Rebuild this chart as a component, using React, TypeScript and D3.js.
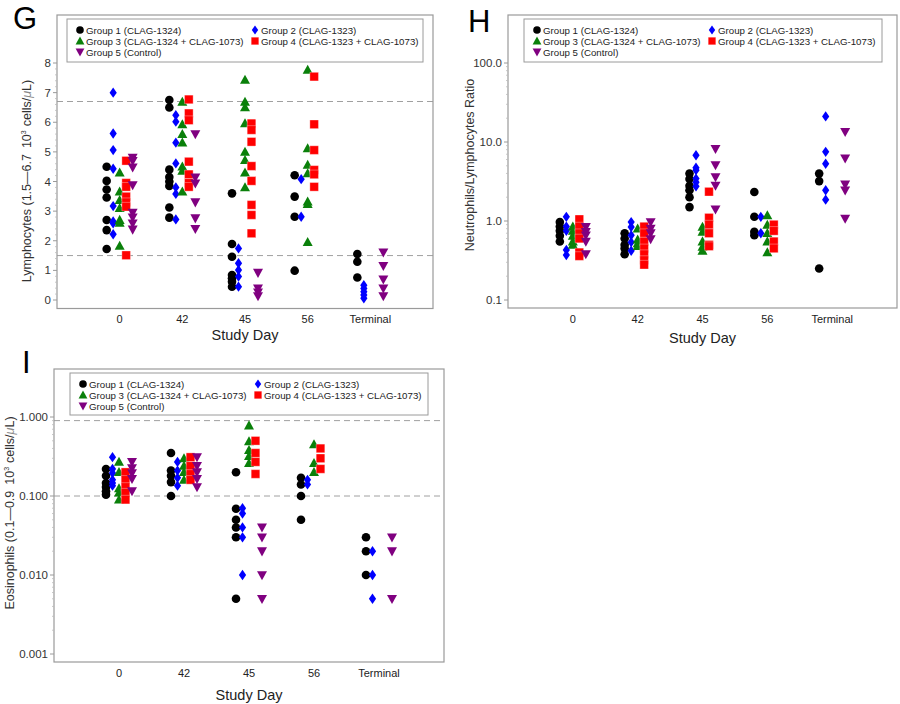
import React from 'react';
import * as d3 from 'd3';

const days = ['0', '42', '45', '56', 'Terminal'];
const groupNames = [
  'Group 1 (CLAG-1324)',
  'Group 2 (CLAG-1323)',
  'Group 3 (CLAG-1324 + CLAG-1073)',
  'Group 4 (CLAG-1323 + CLAG-1073)',
  'Group 5 (Control)',
];
const groupColors = ['#000000', '#0000ff', '#0a800a', '#ff0000', '#800080'];
const groupShapes = ['circle', 'diamond', 'triangle', 'square', 'triangleDown'];

// Lymphocytes (10^3 cells/uL), per group, per study day
const lymG1 = [[4.5, 4.02, 3.73, 3.46, 2.7, 2.36, 1.72], [6.75, 6.5, 4.4, 4.15, 4.0, 3.85, 3.12, 2.78], [3.6, 1.89, 1.46, 0.84, 0.73, 0.62, 0.45], [4.21, 3.49, 2.81, 0.99], [1.55, 1.29, 0.76]];
const lymG2 = [[7.0, 5.62, 5.06, 4.43, 3.17, 2.65, 2.59, 2.22], [6.24, 6.02, 5.31, 4.61, 3.8, 3.58, 2.72], [1.74, 1.24, 1.01, 0.79, 0.45], [4.08, 2.81], [0.5, 0.39, 0.28, 0.17, 0.06]];
const lymG3 = [[4.3, 3.66, 3.37, 3.1, 2.7, 2.6, 1.83], [6.69, 5.93, 5.6, 5.31, 4.5, 4.36, 3.66], [7.43, 6.69, 6.5, 5.96, 5.0, 4.72, 4.3, 3.8], [7.77, 5.12, 4.56, 4.27, 3.32, 3.24, 1.95], []];
const lymG4 = [[4.7, 3.95, 3.82, 3.49, 3.3, 3.15, 1.51], [6.77, 6.3, 6.07, 4.67, 4.24, 3.95, 3.82], [5.96, 5.74, 5.34, 4.52, 4.02, 3.21, 2.87, 2.25], [7.54, 5.93, 5.06, 4.39, 4.24, 3.82], []];
const lymG5 = [[4.81, 4.7, 4.48, 3.88, 2.95, 2.79, 2.59, 2.38], [5.6, 4.14, 3.94, 3.3, 2.76, 2.4], [0.92, 0.39, 0.26, 0.13], [], [1.61, 1.15, 0.7, 0.39, 0.13]];

// Neutrophils / Lymphocytes ratio
const nlrG1 = [[0.97, 0.85, 0.75, 0.65, 0.55], [0.7, 0.6, 0.5, 0.45, 0.38], [4.0, 3.4, 2.8, 2.45, 2.0, 1.5], [2.33, 1.13, 0.73, 0.66], [3.98, 3.2, 0.25]];
const nlrG2 = [[1.13, 0.85, 0.75, 0.43, 0.37], [0.97, 0.84, 0.66, 0.54, 0.42], [6.8, 4.73, 4.4, 3.44, 3.1, 2.75], [1.13, 0.7], [21.1, 7.5, 5.3, 2.45, 1.86]];
const nlrG3 = [[0.85, 0.75, 0.65, 0.55, 0.5], [0.8, 0.58, 0.52, 0.48], [0.84, 0.73, 0.55, 0.47, 0.42], [1.18, 0.89, 0.7, 0.55, 0.4], []];
const nlrG4 = [[1.05, 0.85, 0.7, 0.6, 0.4, 0.36], [0.85, 0.7, 0.55, 0.45, 0.38, 0.32, 0.28], [2.35, 1.1, 0.9, 0.7, 0.5, 0.48], [0.9, 0.75, 0.55, 0.45], []];
const nlrG5 = [[0.84, 0.73, 0.66, 0.55, 0.38], [0.97, 0.8, 0.7, 0.59], [8.2, 5.1, 3.6, 2.8, 1.4], [], [13.4, 6.2, 2.9, 2.45, 1.07]];

// Eosinophils (10^3 cells/uL)
const eosG1 = [[0.22, 0.18, 0.146, 0.13, 0.115, 0.104], [0.35, 0.21, 0.18, 0.15, 0.1], [0.2, 0.069, 0.05, 0.04, 0.03, 0.005], [0.17, 0.14, 0.1, 0.05], [0.03, 0.02, 0.01]];
const eosG2 = [[0.31, 0.22, 0.195, 0.16, 0.146, 0.135], [0.27, 0.21, 0.17, 0.135], [0.07, 0.06, 0.04, 0.03, 0.01], [0.16, 0.14], [0.02, 0.01, 0.005]];
const eosG3 = [[0.27, 0.2, 0.125, 0.11, 0.09], [0.3, 0.24, 0.2, 0.16], [0.78, 0.49, 0.38, 0.32, 0.26], [0.45, 0.26, 0.2], []];
const eosG4 = [[0.2, 0.16, 0.13, 0.11, 0.09], [0.31, 0.24, 0.19, 0.16], [0.5, 0.35, 0.27, 0.19], [0.4, 0.3, 0.22], []];
const eosG5 = [[0.27, 0.225, 0.195, 0.165, 0.115], [0.31, 0.24, 0.2, 0.165, 0.13], [0.04, 0.03, 0.02, 0.01, 0.005], [], [0.03, 0.02, 0.005]];

const lymTicks = [0, 1, 2, 3, 4, 5, 6, 7, 8];
const lymRef = [6.7, 1.5];
const nlrTicks = [0.1, 1, 10, 100];
const eosTicks = [0.001, 0.01, 0.1, 1];
const eosRef = [0.9, 0.1];

const FONT = '"Liberation Sans", Arial, sans-serif';

function markerPath(shape: string, s: number): string {
  switch (shape) {
    case 'diamond': {
      const w = s * 0.42, h = s * 0.6;
      return `M0,${-h}L${w},0L0,${h}L${-w},0Z`;
    }
    case 'triangle': {
      const w = s * 0.58, h = s;
      return `M0,${-h * 0.6}L${w},${h * 0.45}L${-w},${h * 0.45}Z`;
    }
    case 'triangleDown': {
      const w = s * 0.58, h = s;
      return `M0,${h * 0.6}L${w},${-h * 0.45}L${-w},${-h * 0.45}Z`;
    }
    case 'square': {
      const a = s / 2;
      return `M${-a},${-a}L${a},${-a}L${a},${a}L${-a},${a}Z`;
    }
    default: {
      const r = s / 2;
      return `M${r},0A${r},${r},0,1,1,${-r},0A${r},${r},0,1,1,${r},0Z`;
    }
  }
}

function Marker({ g, x, y, s }: { g: number; x: number; y: number; s: number }) {
  const isSq = groupShapes[g] === 'square';
  return (
    <path
      d={markerPath(groupShapes[g], s)}
      transform={`translate(${x},${y})`}
      fill={groupColors[g]}
      stroke={isSq ? 'rgba(255,255,255,0.55)' : 'none'}
      strokeWidth={isSq ? 0.6 : 0}
    />
  );
}

type PanelProps = {
  x0: number; y0: number; w: number; h: number;
  yScale: any;
  yTicks: number[];
  minor: number[];
  fmt: (v: number) => string;
  refLines: number[];
  data: number[][][];
  yLabel: React.ReactNode;
  yLabelX: number; yLabelY: number;
  letter: string; letterX: number; letterY: number;
  legX: number; legY: number; legW: number; legH: number;
  tickLabelY: number; titleY: number;
};

function Panel(p: PanelProps) {
  const x = d3.scalePoint<string>().domain(days).range([p.x0, p.x0 + p.w]).padding(1);
  const off = d3.scalePoint<number>().domain([0, 1, 2, 3, 4]).range([-13, 13]);
  const axisColor = '#9a9a9a';
  return (
    <g fontFamily={FONT}>
      <text x={p.letterX} y={p.letterY} fontSize={31} fill="#000">{p.letter}</text>
      {/* ref lines */}
      {p.refLines.map((v, i) => (
        <line key={i} x1={p.x0} x2={p.x0 + p.w} y1={p.yScale(v)} y2={p.yScale(v)} stroke="#a0a0a0" strokeDasharray="6,4" strokeWidth={1} />
      ))}
      {/* markers */}
      {p.data.map((grp, g) =>
        grp.map((vals, di) =>
          vals.map((v, k) => (
            <Marker key={`${g}-${di}-${k}`} g={g} x={(x(days[di]) as number) + (off(g) as number)} y={p.yScale(v)} s={8.6} />
          ))
        )
      )}
      {/* frame */}
      <rect x={p.x0} y={p.y0} width={p.w} height={p.h} fill="none" stroke={axisColor} strokeWidth={1.2} />
      {/* minor ticks */}
      {p.minor.map((v, i) => (
        <line key={i} x1={p.x0 - 2} x2={p.x0} y1={p.yScale(v)} y2={p.yScale(v)} stroke="#bbbbbb" strokeWidth={0.8} />
      ))}
      {/* major ticks */}
      {p.yTicks.map((v, i) => (
        <g key={i}>
          <line x1={p.x0 - 4} x2={p.x0} y1={p.yScale(v)} y2={p.yScale(v)} stroke={axisColor} strokeWidth={1} />
          <text x={p.x0 - 6} y={p.yScale(v) + 4} textAnchor="end" fontSize={11.5} fill="#333">{p.fmt(v)}</text>
        </g>
      ))}
      {/* x tick labels */}
      {days.map((d) => (
        <text key={d} x={x(d)} y={p.tickLabelY} textAnchor="middle" fontSize={11} fill="#222">{d}</text>
      ))}
      <text x={p.x0 + p.w / 2} y={p.titleY} textAnchor="middle" fontSize={14.5} fill="#222">Study Day</text>
      {/* y label */}
      <text transform={`translate(${p.yLabelX},${p.yLabelY}) rotate(-90)`} textAnchor="middle" fontSize={12.5} fill="#333">{p.yLabel}</text>
      {/* legend */}
      <rect x={p.legX} y={p.legY} width={p.legW} height={p.legH} fill="#fff" stroke="#9a9a9a" strokeWidth={1} />
      {groupNames.map((name, g) => {
        const col = g % 2;
        const row = Math.floor(g / 2);
        const mx = p.legX + (col === 0 ? 13 : 188);
        const my = p.legY + 11 + row * 11;
        return (
          <g key={name}>
            <Marker g={g} x={mx} y={my} s={7.6} />
            <text x={mx + 6} y={my + 3.8} fontSize={9.7} fill="#222">{name}</text>
          </g>
        );
      })}
    </g>
  );
}

function LabelCells({ pre, range }: { pre: string; range: string }) {
  return (
    <>
      {pre} ({range}
      <tspan dx={6}>10</tspan>
      <tspan dy={-5} fontSize={7}>3</tspan>
      <tspan dy={5} dx={4}>cells/</tspan>
      <tspan fill="#8a8a8a" fontStyle="italic">μ</tspan>
      <tspan>L)</tspan>
    </>
  );
}

function logMinor(lo: number, hi: number): number[] {
  const out: number[] = [];
  for (let e = lo; e < hi; e++) {
    for (let m = 2; m <= 9; m++) out.push(m * Math.pow(10, e));
  }
  return out;
}

export default function App() {
  const yG = d3.scaleLinear().domain([0, 8]).range([300, 63]);
  const yH = d3.scaleLog().domain([0.1, 100]).range([300, 63]);
  const yI = d3.scaleLog().domain([0.001, 1]).range([654, 417]);
  const linMinor = d3.range(0, 8.01, 0.2).filter((v) => Math.abs(v - Math.round(v)) > 0.01);

  return (
    <svg width={900} height={704} style={{ position: 'absolute', left: 0, top: 0, background: '#fff' }}>
      <rect width={900} height={704} fill="#fff" />
      <Panel
        x0={57} y0={15} w={376} h={293.5}
        yScale={yG} yTicks={lymTicks} minor={linMinor} fmt={(v) => String(v)}
        refLines={lymRef}
        data={[lymG1, lymG2, lymG3, lymG4, lymG5]}
        yLabel={<LabelCells pre="Lymphocytes" range="1.5—6.7" />}
        yLabelX={31} yLabelY={181}
        letter="G" letterX={13} letterY={29}
        legX={67} legY={19} legW={356} legH={43}
        tickLabelY={323} titleY={340}
      />
      <Panel
        x0={508} y0={15} w={389} h={293}
        yScale={yH} yTicks={nlrTicks} minor={logMinor(-1, 2)} fmt={(v) => v.toFixed(1)}
        refLines={[]}
        data={[nlrG1, nlrG2, nlrG3, nlrG4, nlrG5]}
        yLabel={<>Neutrophils/Lymphocytes Ratio</>}
        yLabelX={474} yLabelY={165}
        letter="H" letterX={468} letterY={32}
        legX={524} legY={19} legW={358} legH={43}
        tickLabelY={323} titleY={343}
      />
      <Panel
        x0={54} y0={369} w={390} h={293}
        yScale={yI} yTicks={eosTicks} minor={logMinor(-3, 0)} fmt={(v) => v.toFixed(3)}
        refLines={eosRef}
        data={[eosG1, eosG2, eosG3, eosG4, eosG5]}
        yLabel={<LabelCells pre="Eosinophils" range="0.1—0.9" />}
        yLabelX={14} yLabelY={513}
        letter="I" letterX={22} letterY={373}
        legX={70} legY={373} legW={358} legH={42}
        tickLabelY={677} titleY={700}
      />
    </svg>
  );
}
